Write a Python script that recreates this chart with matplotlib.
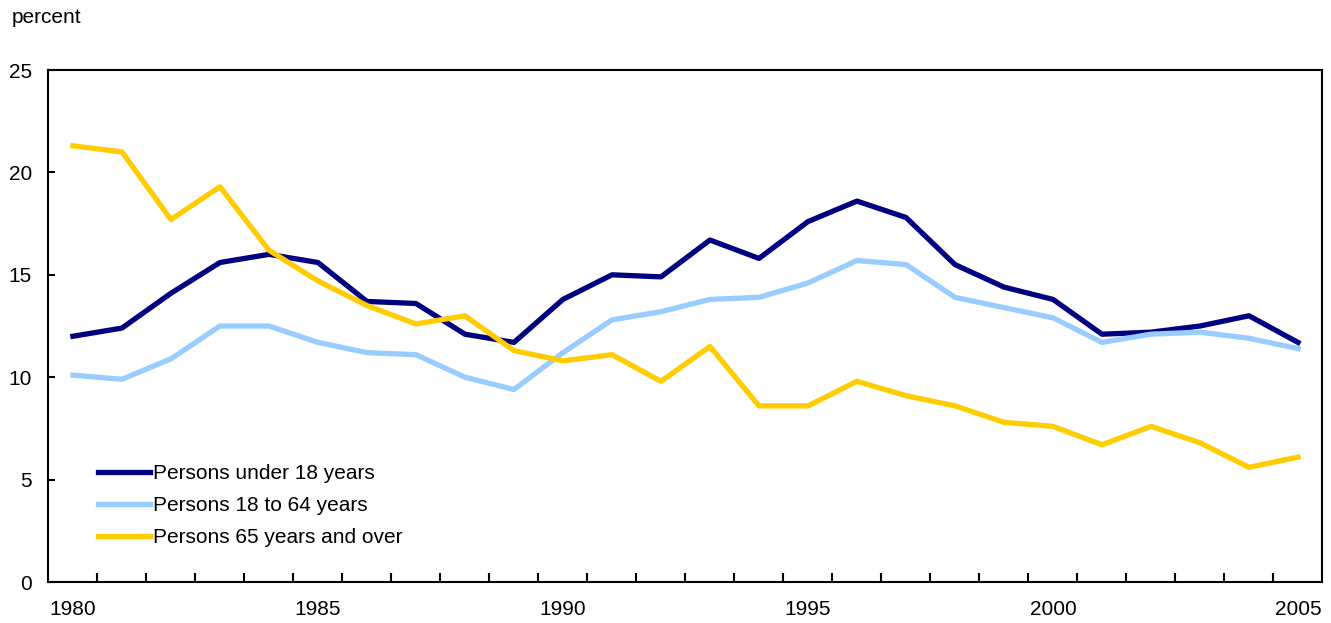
import numpy as np
import matplotlib
matplotlib.use('Agg')
import matplotlib.pyplot as plt

plt.rcParams['font.family'] = ['Liberation Sans', 'DejaVu Sans']

years = list(range(1980, 2006))
under_18 = [12.0, 12.4, 14.1, 15.6, 16.0, 15.6, 13.7, 13.6, 12.1, 11.7,
            13.8, 15.0, 14.9, 16.7, 15.8, 17.6, 18.6, 17.8, 15.5, 14.4,
            13.8, 12.1, 12.2, 12.5, 13.0, 11.7]
age_18_64 = [10.1, 9.9, 10.9, 12.5, 12.5, 11.7, 11.2, 11.1, 10.0, 9.4,
             11.2, 12.8, 13.2, 13.8, 13.9, 14.6, 15.7, 15.5, 13.9, 13.4,
             12.9, 11.7, 12.1, 12.2, 11.9, 11.4]
age_65_over = [21.3, 21.0, 17.7, 19.3, 16.2, 14.7, 13.5, 12.6, 13.0, 11.3,
               10.8, 11.1, 9.8, 11.5, 8.6, 8.6, 9.8, 9.1, 8.6, 7.8,
               7.6, 6.7, 7.6, 6.8, 5.6, 6.1]
labels = ['Persons under 18 years', 'Persons 18 to 64 years', 'Persons 65 years and over']
colors = ['#000080', '#99CCFF', '#FFCC00']

fig = plt.figure(figsize=(13.31, 6.23), dpi=100)
ax = fig.add_axes([0.0364, 0.0658, 0.9572, 0.8218])

x = np.arange(len(years))
for vals, lab, col in zip([under_18, age_18_64, age_65_over], labels, colors):
    ax.plot(x, vals, color=col, linewidth=3.8, label=lab)

ax.set_xlim(-0.5, len(years) - 0.5)
ax.set_ylim(0, 25)

# year labels every 5 years, tick marks between years
ax.set_xticks(x[::5])
ax.set_xticklabels([str(y) for y in years[::5]])
ax.set_xticks(np.arange(0.5, len(years) - 1, 1), minor=True)
ax.tick_params(axis='x', which='major', length=0, pad=13, labelsize=15)
ax.tick_params(axis='x', which='minor', direction='in', length=6.5, width=1.5)

ax.set_yticks([0, 5, 10, 15, 20, 25])
ax.tick_params(axis='y', direction='in', length=5, width=1.5, pad=12, labelsize=15)

for s in ax.spines.values():
    s.set_linewidth(1.5)

fig.text(0.009, 0.972, 'percent', fontsize=15, ha='left', va='center')

ax.legend(loc='upper left', bbox_to_anchor=(0.0736, 0.255), bbox_transform=fig.transFigure,
          frameon=False, fontsize=15, borderpad=0, borderaxespad=0,
          handlelength=2.5, handletextpad=0.15, labelspacing=0.62)

fig.savefig('out.png', dpi=100)
